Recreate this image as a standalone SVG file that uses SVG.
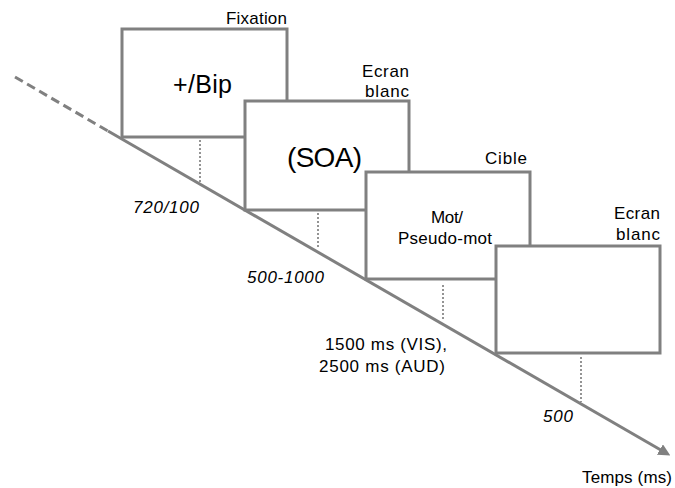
<svg xmlns="http://www.w3.org/2000/svg" width="675" height="488" viewBox="0 0 675 488">
<style>
.box{fill:#ffffff;stroke:#808080;stroke-width:3}
.axis{stroke:#808080;stroke-width:3;fill:none}
.dash{stroke:#808080;stroke-width:3;fill:none;stroke-dasharray:9 5}
.tick{stroke:#7a7a7a;stroke-width:1.6;stroke-dasharray:2 2;fill:none}
.lbl{font-family:"Liberation Sans",Arial,sans-serif;font-size:17px;fill:#000}
.it{font-family:"Liberation Sans",Arial,sans-serif;font-size:17px;font-style:italic;fill:#000}
.big{font-family:"Liberation Sans",Arial,sans-serif;fill:#000}
</style>
<defs>
<marker id="arr" markerWidth="12" markerHeight="12" refX="7" refY="6" orient="auto" markerUnits="userSpaceOnUse">
<path d="M0,0 L12,6 L0,12 Z" fill="#808080"/>
</marker>
</defs>
<g id="connectors">
<line class="dash" x1="15" y1="77" x2="108" y2="131"/>
<line class="axis" x1="108" y1="131" x2="666" y2="453" marker-end="url(#arr)"/>
<line class="tick" x1="200" y1="140" x2="200" y2="182"/>
<line class="tick" x1="318" y1="213" x2="318" y2="247"/>
<line class="tick" x1="443" y1="285" x2="443" y2="321"/>
<line class="tick" x1="581" y1="357" x2="581" y2="402"/>
</g>
<g id="fixation">
<rect class="box" x="122" y="29" width="165" height="108"/>
<text class="lbl" x="226" y="24" textLength="61" lengthAdjust="spacing">Fixation</text>
<text class="big" x="173" y="93" font-size="25" textLength="59" lengthAdjust="spacing">+/Bip</text>
</g>
<g id="ecran1">
<rect class="box" x="245" y="101" width="164" height="109"/>
<text class="lbl" x="362" y="77" textLength="47" lengthAdjust="spacing">Ecran</text>
<text class="lbl" x="365" y="97" textLength="44" lengthAdjust="spacing">blanc</text>
<text class="big" x="287" y="167" font-size="28" textLength="75" lengthAdjust="spacing">(SOA)</text>
</g>
<g id="cible">
<rect class="box" x="366" y="172" width="164" height="107"/>
<text class="lbl" x="485" y="164" textLength="42" lengthAdjust="spacing">Cible</text>
<text class="lbl" x="431" y="223" textLength="32" lengthAdjust="spacing">Mot/</text>
<text class="lbl" x="398" y="244" textLength="94" lengthAdjust="spacing">Pseudo-mot</text>
</g>
<g id="ecran2">
<rect class="box" x="496" y="246" width="164" height="107"/>
<text class="lbl" x="614" y="219" textLength="46" lengthAdjust="spacing">Ecran</text>
<text class="lbl" x="616" y="240" textLength="44" lengthAdjust="spacing">blanc</text>
</g>
<g id="durations">
<text class="it" x="133" y="213" textLength="66" lengthAdjust="spacing">720/100</text>
<text class="it" x="247" y="283" textLength="77" lengthAdjust="spacing">500-1000</text>
<text class="lbl" x="325" y="350" textLength="122" lengthAdjust="spacing">1500 ms (VIS),</text>
<text class="lbl" x="319" y="372" textLength="126" lengthAdjust="spacing">2500 ms (AUD)</text>
<text class="it" x="543" y="422" textLength="30" lengthAdjust="spacing">500</text>
<text class="lbl" x="582" y="483" textLength="90" lengthAdjust="spacing">Temps (ms)</text>
</g>
</svg>
